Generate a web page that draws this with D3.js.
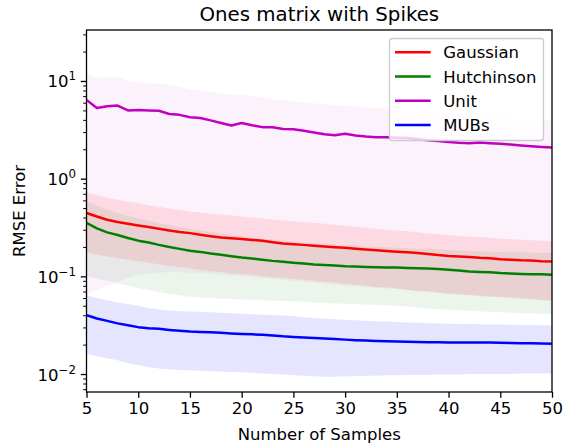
<!DOCTYPE html>
<html><head><meta charset="utf-8">
<script src="https://cdn.jsdelivr.net/npm/d3@7"></script>
<style>body{margin:0;background:#fff}svg{display:block}text{font-family:"DejaVu Sans",sans-serif}</style>
</head><body><svg id="c" width="569" height="445"></svg>
<script>
const samples = [5,6,7,8,9,10,11,12,13,14,15,16,17,18,19,20,21,22,23,24,25,26,27,28,29,30,31,32,33,34,35,36,37,38,39,40,41,42,43,44,45,46,47,48,49,50];
const gaussMean = [0.445,0.41,0.38,0.36,0.346,0.332,0.32,0.307,0.295,0.285,0.277,0.267,0.258,0.25,0.245,0.241,0.236,0.231,0.224,0.217,0.213,0.21,0.206,0.202,0.199,0.196,0.192,0.188,0.185,0.182,0.179,0.176,0.173,0.169,0.165,0.162,0.16,0.158,0.155,0.153,0.15,0.148,0.146,0.145,0.143,0.142];
const gaussUpper = [0.72,0.68,0.64,0.61,0.58,0.56,0.535,0.515,0.495,0.478,0.462,0.45,0.44,0.43,0.42,0.41,0.40,0.39,0.382,0.375,0.367,0.36,0.352,0.345,0.337,0.33,0.322,0.315,0.308,0.30,0.295,0.29,0.282,0.275,0.27,0.265,0.26,0.255,0.251,0.248,0.244,0.24,0.237,0.234,0.231,0.228];
const gaussLower = [0.175,0.167,0.16,0.154,0.148,0.143,0.138,0.133,0.128,0.124,0.12,0.116,0.113,0.11,0.107,0.105,0.103,0.1,0.098,0.096,0.094,0.092,0.09,0.088,0.086,0.084,0.082,0.08,0.078,0.077,0.075,0.073,0.071,0.07,0.068,0.066,0.065,0.064,0.063,0.062,0.061,0.06,0.059,0.058,0.057,0.056];
const hutchMean = [0.352,0.31,0.282,0.265,0.247,0.232,0.222,0.21,0.2,0.191,0.183,0.178,0.171,0.166,0.161,0.156,0.152,0.148,0.144,0.141,0.138,0.135,0.132,0.131,0.129,0.127,0.126,0.125,0.124,0.123,0.123,0.122,0.121,0.12,0.119,0.117,0.115,0.112,0.111,0.11,0.108,0.107,0.106,0.105,0.105,0.104];
const hutchUpper = [0.586,0.53,0.48,0.445,0.415,0.39,0.37,0.35,0.335,0.32,0.305,0.295,0.285,0.275,0.265,0.257,0.25,0.243,0.237,0.232,0.227,0.222,0.218,0.214,0.21,0.207,0.204,0.202,0.2,0.198,0.196,0.194,0.192,0.19,0.188,0.186,0.184,0.182,0.18,0.179,0.178,0.177,0.176,0.175,0.174,0.173];
const hutchLower = [0.1,0.095,0.09,0.085,0.08,0.076,0.072,0.069,0.066,0.064,0.062,0.061,0.06,0.059,0.0585,0.058,0.0575,0.057,0.0565,0.056,0.0555,0.055,0.054,0.0535,0.053,0.0525,0.052,0.0515,0.051,0.0505,0.05,0.049,0.048,0.047,0.046,0.0455,0.045,0.0445,0.044,0.0435,0.043,0.0425,0.042,0.042,0.0415,0.0415];
const unitMean = [6.4,5.3,5.5,5.6,5.0,5.05,5.0,4.95,4.6,4.5,4.25,4.18,3.95,3.72,3.5,3.72,3.52,3.37,3.36,3.22,3.2,3.1,2.97,2.85,2.78,2.88,2.76,2.7,2.66,2.65,2.63,2.61,2.55,2.48,2.43,2.38,2.33,2.31,2.35,2.31,2.28,2.24,2.19,2.15,2.11,2.08];
const unitUpper = [12.2,10.7,11.0,11.1,9.9,9.7,9.5,9.4,9.1,8.7,8.2,8.0,7.7,7.4,7.2,7.3,7.0,6.8,6.45,6.35,6.2,6.05,5.9,5.75,5.65,5.6,5.5,5.4,5.3,5.2,5.07,5.0,4.9,4.8,4.7,4.6,4.5,4.45,4.4,4.3,4.25,4.2,4.1,4.05,4.0,3.98];
const unitLower = [0.065,0.072,0.08,0.088,0.096,0.103,0.107,0.109,0.11,0.11,0.109,0.108,0.106,0.104,0.102,0.1,0.098,0.096,0.094,0.092,0.09,0.088,0.086,0.084,0.082,0.08,0.079,0.078,0.076,0.075,0.074,0.072,0.071,0.07,0.068,0.067,0.066,0.065,0.064,0.063,0.062,0.061,0.06,0.059,0.058,0.057];
const mubsMean = [0.040,0.037,0.035,0.033,0.0315,0.0302,0.0295,0.029,0.0283,0.0277,0.0272,0.027,0.0267,0.0264,0.026,0.0257,0.0255,0.0253,0.0248,0.0243,0.024,0.0237,0.0234,0.0231,0.0228,0.0225,0.0222,0.022,0.0218,0.0216,0.0215,0.0214,0.0213,0.0212,0.0211,0.021,0.021,0.021,0.021,0.021,0.0209,0.0208,0.0207,0.0206,0.0205,0.0204];
const mubsUpper = [0.064,0.06,0.057,0.054,0.052,0.05,0.0475,0.0458,0.0447,0.044,0.0437,0.0433,0.043,0.0425,0.042,0.0415,0.041,0.0405,0.0401,0.0398,0.039,0.0382,0.0374,0.0368,0.0363,0.0358,0.0355,0.0352,0.0348,0.0345,0.0341,0.0337,0.0334,0.0332,0.033,0.0328,0.0327,0.0325,0.0324,0.0322,0.0321,0.032,0.0318,0.0317,0.0316,0.0315];
const mubsLower = [0.0161,0.0152,0.0145,0.0138,0.013,0.0123,0.0118,0.0114,0.0112,0.011,0.0109,0.0108,0.0107,0.0106,0.0105,0.0104,0.0103,0.0101,0.01,0.0099,0.0097,0.0096,0.0095,0.0094,0.0094,0.0095,0.0095,0.0096,0.0096,0.0097,0.0097,0.0098,0.0098,0.0098,0.0099,0.0099,0.0099,0.01,0.01,0.01,0.01,0.01,0.0101,0.0101,0.0101,0.0101];
const xTicks = [5,10,15,20,25,30,35,40,45,50];
const yTicks = [-2,-1,0,1];
const seriesNames = ["Gaussian","Hutchinson","Unit","MUBs"];
const seriesColors = ["#ff0000","#008000","#bf00bf","#0000ff"];
const bandOpacity = [0.1,0.08,0.05,0.1];

const series = [
  {mean:gaussMean, up:gaussUpper, lo:gaussLower},
  {mean:hutchMean, up:hutchUpper, lo:hutchLower},
  {mean:unitMean, up:unitUpper, lo:unitLower},
  {mean:mubsMean, up:mubsUpper, lo:mubsLower}
];

const FS = 16.5;
const svg = d3.select("#c");
const L = 86.5, R = 552, T = 30, B = 392;
const x = d3.scaleLinear().domain([5,50]).range([L,R]);
const y = d3.scaleLog().domain([Math.pow(10,-2.184), Math.pow(10,1.522)]).range([B,T]);

const g = svg.append("g");
g.append("defs").append("clipPath").attr("id","clip").append("rect")
  .attr("x",L).attr("y",T).attr("width",R-L).attr("height",B-T);
const plot = g.append("g").attr("clip-path","url(#clip)");

series.forEach((s,i)=>{
  const area = d3.area().x((d,j)=>x(samples[j])).y0((d,j)=>y(s.lo[j])).y1((d,j)=>y(s.up[j]));
  plot.append("path").datum(samples).attr("d",area)
    .attr("fill",seriesColors[i]).attr("fill-opacity",bandOpacity[i]).attr("stroke","none");
});
series.forEach((s,i)=>{
  const line = d3.line().x((d,j)=>x(samples[j])).y((d,j)=>y(s.mean[j]));
  plot.append("path").datum(samples).attr("d",line)
    .attr("fill","none").attr("stroke",seriesColors[i]).attr("stroke-width",2.5)
    .attr("stroke-linejoin","round").attr("stroke-linecap","square");
});

// x axis
const xa = g.append("g").attr("transform",`translate(0,${B})`)
  .call(d3.axisBottom(x).tickValues(xTicks).tickSize(5.7).tickPadding(5).tickFormat(d3.format("d")));
xa.select(".domain").remove();
xa.selectAll("line").attr("stroke","#000").attr("stroke-width",1.3);
xa.selectAll("text").attr("font-size",FS).attr("fill","#000").attr("font-family","DejaVu Sans");

// y minor ticks
const minor = [];
for (let e=-3;e<=1;e++) for (let m=2;m<=9;m++){ const v=m*Math.pow(10,e); if(v>=y.domain()[0] && v<=y.domain()[1]) minor.push(v); }
const ym = g.append("g").attr("transform",`translate(${L},0)`)
  .call(d3.axisLeft(y).tickValues(minor).tickSize(3.3).tickFormat(""));
ym.select(".domain").remove();
ym.selectAll("line").attr("stroke","#000").attr("stroke-width",1);

const ya = g.append("g").attr("transform",`translate(${L},0)`)
  .call(d3.axisLeft(y).tickValues(yTicks.map(e=>Math.pow(10,e))).tickSize(5.7).tickFormat(""));
ya.select(".domain").remove();
ya.selectAll("line").attr("stroke","#000").attr("stroke-width",1.3);
yTicks.forEach(e=>{
  const t = g.append("text").attr("x",L-10.5).attr("y",y(Math.pow(10,e))+6.5)
    .attr("text-anchor","end").attr("font-size",FS).attr("fill","#000");
  t.append("tspan").text("10");
  t.append("tspan").attr("font-size",11.8).attr("dy",-7).text(e<0?"\u2212"+(-e):String(e));
});

// spines
g.append("rect").attr("x",L).attr("y",T).attr("width",R-L).attr("height",B-T)
  .attr("fill","none").attr("stroke","#000").attr("stroke-width",1.3);

// labels
g.append("text").attr("x",(L+R)/2).attr("y",440).attr("text-anchor","middle").attr("font-size",FS).text("Number of Samples");
g.append("text").attr("transform",`translate(25,${(T+B)/2}) rotate(-90)`).attr("text-anchor","middle").attr("font-size",FS).text("RMSE Error");
g.append("text").attr("x",(L+R)/2).attr("y",21).attr("text-anchor","middle").attr("font-size",19.8).text("Ones matrix with Spikes");

// legend
const lg = g.append("g");
lg.append("rect").attr("x",389.5).attr("y",38.5).attr("width",154).attr("height",102).attr("rx",3)
  .attr("fill","#fff").attr("fill-opacity",0.8).attr("stroke","#cccccc").attr("stroke-width",1.3);
seriesNames.forEach((n,i)=>{
  const yy = 52.3 + i*24.2;
  lg.append("line").attr("x1",395).attr("x2",430.7).attr("y1",yy).attr("y2",yy)
    .attr("stroke",seriesColors[i]).attr("stroke-width",2.5);
  lg.append("text").attr("x",443.3).attr("y",yy+6).attr("font-size",FS).text(n);
});
</script></body></html>
